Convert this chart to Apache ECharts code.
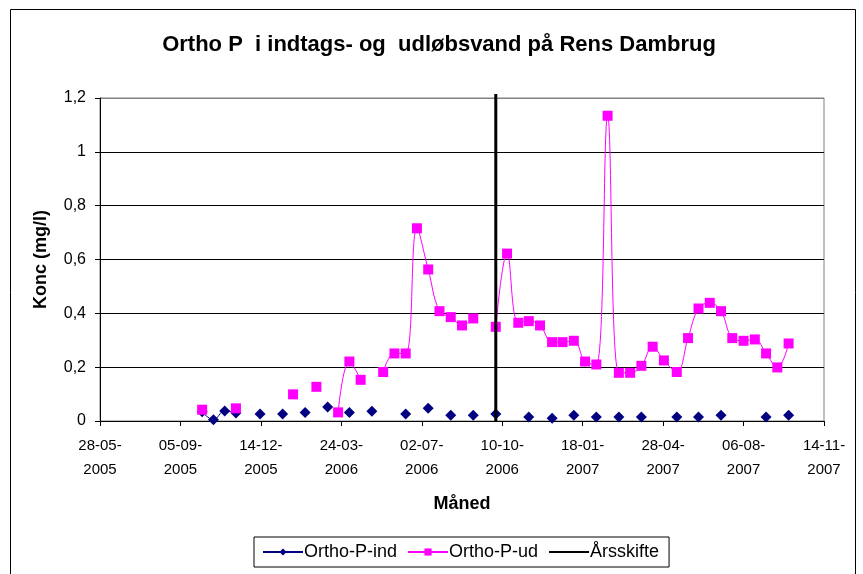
<!DOCTYPE html>
<html>
<head>
<meta charset="utf-8">
<script src="https://cdn.jsdelivr.net/npm/echarts@6/dist/echarts.min.js"></script>
<style>
  html, body { margin: 0; padding: 0; background: #fff; }
  #chart { width: 863px; height: 574px; }
</style>
</head>
<body>
<div id="chart"></div>
<script>
// Ortho P i indtags- og udløbsvand – prøvedatoer og koncentrationer (mg/l)
const axisStart = '2005-05-28';
const axisEnd = '2007-11-14';
const tickDays = 100;

const sampleDates = [
  '2005-10-02', '2005-10-16', '2005-10-30', '2005-11-13', '2005-11-27', '2005-12-13', '2005-12-27',
  '2006-01-10', '2006-01-23', '2006-02-07', '2006-02-21', '2006-03-07', '2006-03-20', '2006-04-03',
  '2006-04-17', '2006-05-01', '2006-05-15', '2006-05-29', '2006-06-12', '2006-06-26', '2006-07-10',
  '2006-07-24', '2006-08-07', '2006-08-21', '2006-09-04', '2006-09-18', '2006-10-02', '2006-10-16',
  '2006-10-30', '2006-11-12', '2006-11-26', '2006-12-11', '2006-12-24', '2007-01-07', '2007-01-21',
  '2007-02-04', '2007-02-18', '2007-03-04', '2007-03-18', '2007-04-01', '2007-04-15', '2007-04-29',
  '2007-05-15', '2007-05-29', '2007-06-11', '2007-06-25', '2007-07-09', '2007-07-23', '2007-08-06',
  '2007-08-20', '2007-09-03', '2007-09-17', '2007-10-01'
];

// indløb (tomme felter = null)
const orthoPInd = [
  0.034, 0.005, 0.037, 0.030, null, 0.026, null,
  0.026, null, 0.032, null, 0.052, null, 0.032,
  null, 0.036, null, null, 0.026, null, 0.047,
  null, 0.021, null, 0.021, null, 0.026, null,
  null, 0.015, null, 0.010, null, 0.021, null,
  0.015, null, 0.015, null, 0.015, null, null,
  0.015, null, 0.015, null, 0.021, null, null,
  null, 0.015, null, 0.021
];

// udløb
const orthoPUd = [
  0.042, null, null, 0.047, null, null, null,
  null, 0.099, null, 0.127, null, 0.032, 0.221,
  0.153, null, 0.182, 0.251, 0.251, 0.716, 0.563,
  0.408, 0.386, 0.355, 0.381, null, 0.350, 0.622,
  0.365, 0.371, 0.355, 0.293, 0.293, 0.298, 0.221,
  0.210, 1.134, 0.179, 0.179, 0.205, 0.276, 0.225,
  0.182, 0.308, 0.418, 0.439, 0.408, 0.308, 0.298,
  0.303, 0.251, 0.199, 0.288
];

// årsskifte (lodret markering)
const yearShiftDate = '2006-10-02';
const yearShiftRange = [0, 1.215];

const yTicks = { min: 0, max: 1.2, interval: 0.2 };

const DAY = 86400000;
const startMs = Date.parse(axisStart);
const dayOf = s => (Date.parse(s) - startMs) / DAY;

function dayLabel(d) {
  const t = new Date(startMs + d * DAY);
  const dd = String(t.getUTCDate()).padStart(2, '0');
  const mm = String(t.getUTCMonth() + 1).padStart(2, '0');
  return dd + '-' + mm + '-\n' + t.getUTCFullYear();
}

function toPoints(values) {
  return values.map((v, i) => [dayOf(sampleDates[i]), v == null ? '-' : v]);
}

const chart = echarts.init(document.getElementById('chart'), null, { renderer: 'canvas' });
const font = 'Liberation Sans, Arial, sans-serif';

const option = {
  backgroundColor: '#fff',
  animation: false,
  textStyle: { fontFamily: font },
  title: {
    text: 'Ortho P  i indtags- og  udløbsvand på Rens Dambrug',
    left: 434,
    textAlign: 'center',
    top: 29,
    textStyle: { fontSize: 22, fontWeight: 'bold', color: '#000', fontFamily: font }
  },
  graphic: [{
    type: 'rect',
    shape: { x: 10.5, y: 9.5, width: 845, height: 580 },
    style: { fill: 'none', stroke: '#000', lineWidth: 1 },
    silent: true
  }],
  grid: {
    left: 100,
    right: 39,
    top: 98,
    bottom: 153,
    show: true,
    borderColor: '#808080',
    borderWidth: 1,
    backgroundColor: 'transparent'
  },
  legend: {
    left: 254,
    top: 537,
    orient: 'horizontal',
    itemWidth: 40,
    itemHeight: 9,
    itemGap: 10,
    padding: [6, 10, 6, 8],
    borderColor: '#000',
    borderWidth: 1,
    textStyle: { fontSize: 18, color: '#000', fontFamily: font, padding: [0, 0, 0, -4] },
    data: [
      'Ortho-P-ind',
      'Ortho-P-ud',
      { name: 'Årsskifte', itemStyle: { opacity: 0 } }
    ]
  },
  xAxis: {
    type: 'value',
    min: 0,
    max: dayOf(axisEnd),
    interval: tickDays,
    name: 'Måned',
    nameLocation: 'middle',
    nameGap: 74,
    nameTextStyle: { fontSize: 18, fontWeight: 'bold', color: '#000' },
    axisLine: { lineStyle: { color: '#000', width: 1 } },
    axisTick: { show: true, length: 5, lineStyle: { color: '#000' } },
    axisLabel: {
      formatter: v => dayLabel(v),
      fontSize: 15,
      lineHeight: 24,
      color: '#000',
      margin: 13,
      hideOverlap: false,
      showMinLabel: true,
      showMaxLabel: true
    },
    splitLine: { show: false }
  },
  yAxis: {
    type: 'value',
    min: yTicks.min,
    max: yTicks.max,
    interval: yTicks.interval,
    name: 'Konc (mg/l)',
    nameLocation: 'middle',
    nameGap: 50,
    nameTextStyle: { fontSize: 18, fontWeight: 'bold', color: '#000' },
    axisLine: { show: true, lineStyle: { color: '#000', width: 1 } },
    axisTick: { show: true, length: 5, lineStyle: { color: '#000' } },
    axisLabel: {
      formatter: v => String(Math.round(v * 10) / 10).replace('.', ','),
      fontSize: 16,
      color: '#000',
      margin: 14
    },
    splitLine: {
      lineStyle: { color: ['#000', '#000', '#000', '#000', '#000', '#000', '#808080'], width: 1 }
    }
  },
  series: [
    {
      name: 'Ortho-P-ind',
      type: 'line',
      smooth: 0.4,
      data: toPoints(orthoPInd),
      symbol: 'diamond',
      symbolSize: 11,
      itemStyle: { color: '#000080' },
      lineStyle: { color: '#000080', width: 1 },
      z: 3
    },
    {
      name: 'Ortho-P-ud',
      type: 'line',
      smooth: 0.4,
      data: toPoints(orthoPUd),
      symbol: 'rect',
      symbolSize: 10,
      itemStyle: { color: '#ff00ff' },
      lineStyle: { color: '#ff00ff', width: 1 },
      z: 4
    },
    {
      name: 'Årsskifte',
      type: 'line',
      data: yearShiftRange.map(v => [dayOf(yearShiftDate), v]),
      symbol: 'none',
      clip: false,
      lineStyle: { color: '#000', width: 3 },
      itemStyle: { color: '#000' },
      z: 5
    }
  ]
};

chart.setOption(option);
</script>
</body>
</html>
